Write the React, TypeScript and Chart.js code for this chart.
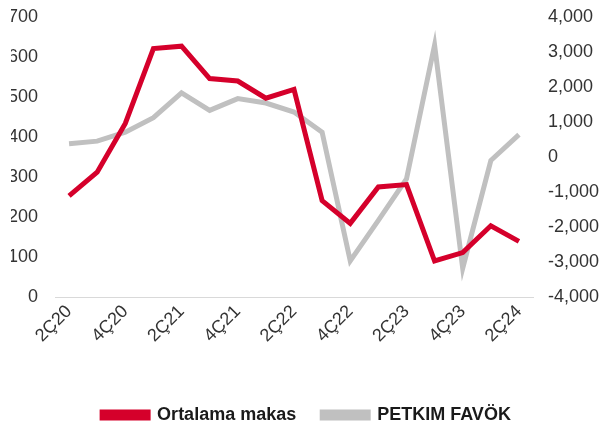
import React, { useEffect, useRef } from "react";
import { Chart, registerables } from "chart.js";

Chart.register(...registerables);

const categories = [
  "2Ç20", "3Ç20", "4Ç20", "1Ç21", "2Ç21", "3Ç21", "4Ç21", "1Ç22", "2Ç22",
  "3Ç22", "4Ç22", "1Ç23", "2Ç23", "3Ç23", "4Ç23", "1Ç24", "2Ç24",
];
const ortalamaMakas = [253, 312, 434, 621, 627, 546, 540, 497, 519, 241, 184, 275, 281, 90, 111, 178, 139];
const petkimFavok = [378, 453, 711, 1124, 1830, 1333, 1669, 1543, 1285, 711, -2968, -1810, -626, 3197, -3178, -100, 637];
const leftTicks = { min: 0, max: 700, step: 100 };
const rightTicks = { min: -4000, max: 4000, step: 1000 };

const FONT = "'Liberation Sans', Arial, sans-serif";

export default function App() {
  const ref = useRef<HTMLCanvasElement | null>(null);
  useEffect(() => {
    if (!ref.current) return;
    const chart = new Chart(ref.current, {
      type: "line",
      data: {
        labels: categories,
        datasets: [
          {
            label: "Ortalama makas",
            data: ortalamaMakas,
            borderColor: "#d5002b",
            backgroundColor: "#d5002b",
            borderWidth: 5,
            pointRadius: 0,
            tension: 0,
            yAxisID: "y",
          },
          {
            label: "PETKIM FAVÖK",
            data: petkimFavok,
            borderColor: "#c0c0c0",
            backgroundColor: "#c0c0c0",
            borderWidth: 5,
            pointRadius: 0,
            tension: 0,
            yAxisID: "y1",
          },
        ],
      },
      options: {
        animation: false,
        responsive: true,
        maintainAspectRatio: false,
        layout: { padding: { top: 17, left: 11, right: 0, bottom: 0 } },
        plugins: {
          tooltip: { enabled: false },
          legend: {
            position: "bottom",
            labels: {
              boxWidth: 46,
              boxHeight: 6,
              padding: 26,
              color: "#1a1a1a",
              font: { family: FONT, size: 18, weight: "bold" },
            },
          },
        },
        scales: {
          x: {
            offset: true,
            grid: { display: false, drawTicks: false, tickLength: 0 },
            border: { display: true, color: "#d9d9d9", width: 1 },
            ticks: {
              autoSkip: false,
              maxRotation: 45,
              minRotation: 45,
              padding: 4,
              color: "#333333",
              font: { family: FONT, size: 18 },
              callback: (_v: any, i: number) => (i % 2 === 0 ? categories[i] : ""),
            },
            afterFit: (s: any) => {
              s.height = 83;
            },
          },
          y: {
            position: "left",
            min: leftTicks.min,
            max: leftTicks.max,
            grid: { display: false, drawTicks: true, tickLength: 14 },
            border: { display: false },
            ticks: {
              stepSize: leftTicks.step,
              padding: 3,
              color: "#333333",
              font: { family: FONT, size: 18 },
            },
            afterFit: (s: any) => {
              s.width = 44;
            },
          },
          y1: {
            position: "right",
            min: rightTicks.min,
            max: rightTicks.max,
            grid: { display: false, drawTicks: true, tickLength: 12 },
            border: { display: false },
            ticks: {
              stepSize: rightTicks.step,
              padding: 3,
              color: "#333333",
              font: { family: FONT, size: 18 },
              callback: (v: any) => Number(v).toLocaleString("en-US"),
            },
            afterFit: (s: any) => {
              s.width = 69;
            },
          },
        },
      },
    });
    return () => chart.destroy();
  }, []);
  return (
    <div style={{ position: "fixed", left: 0, top: 0, width: 602, height: 434, background: "#fff" }}>
      <canvas ref={ref} />
    </div>
  );
}
